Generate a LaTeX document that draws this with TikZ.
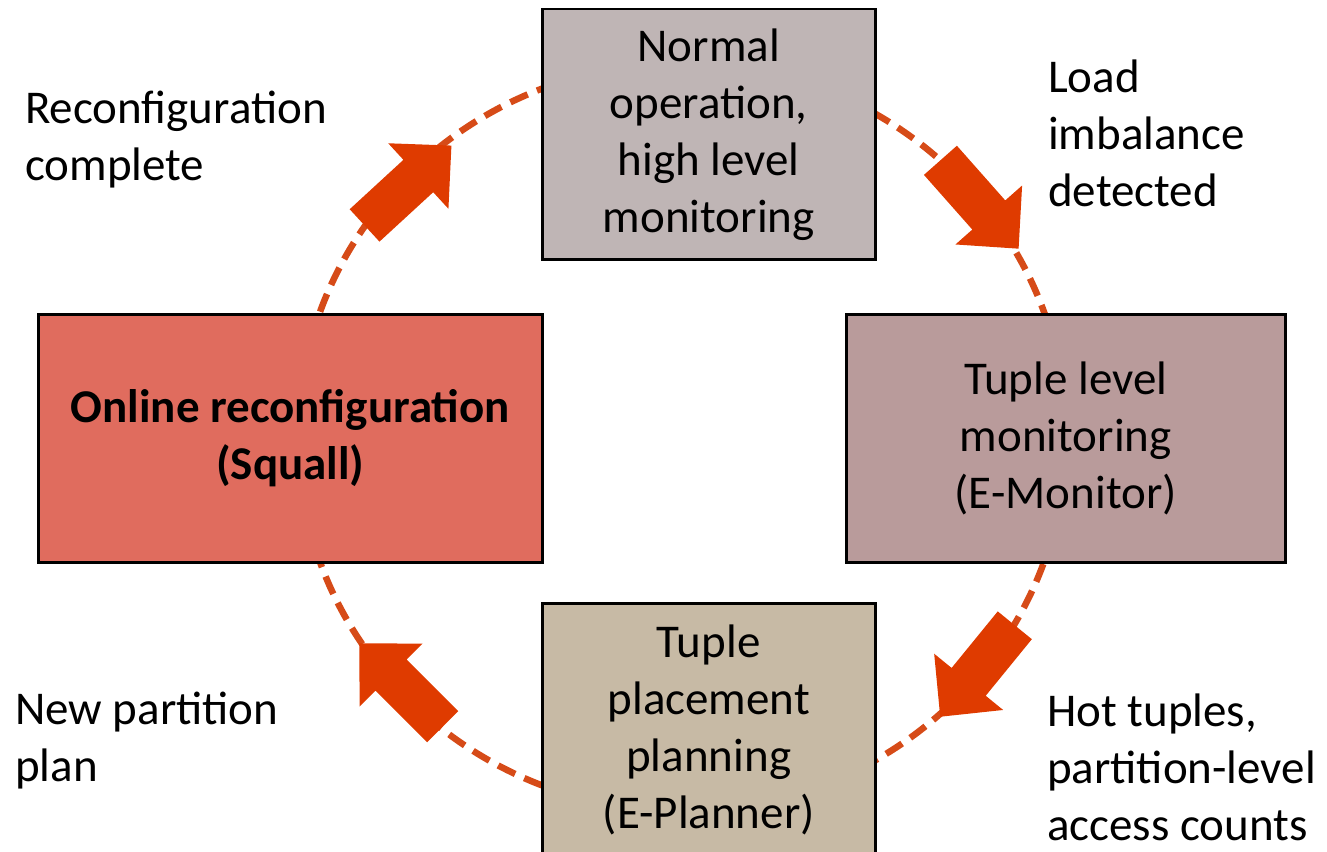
\documentclass[tikz,border=0pt]{standalone}
\usepackage{fontspec}
\setmainfont{Carlito}

\definecolor{topfill}{HTML}{BFB5B5}
\definecolor{rightfill}{HTML}{B99B9B}
\definecolor{botfill}{HTML}{C7BAA5}
\definecolor{leftfill}{HTML}{E06C5E}
\definecolor{arrowred}{HTML}{DF3B00}
\definecolor{cyclecol}{HTML}{D64B18}

\tikzset{
  stagebox/.style={draw=black, line width=2.5pt, inner sep=0pt, align=center,
    anchor=north west, font=\fontsize{47pt}{57pt}\selectfont},
  caption/.style={inner sep=0pt, align=left, anchor=west,
    font=\fontsize{47pt}{57pt}\selectfont},
  cycle/.style={draw=cyclecol, line width=6.5pt, dash pattern=on 19pt off 10pt},
  % thick block arrow pointing along the local x axis, centred on the origin
  pics/blockarrow/.style={code={
    \fill[arrowred] (-59,22) -- (14,22) -- (14,44.5) -- (59,0)
      -- (14,-44.5) -- (14,-22) -- (-59,-22) -- cycle;}}
}

\begin{document}
\begin{tikzpicture}[x=1pt, y=-1pt]
  \useasboundingbox (0,0) rectangle (1327,851);

  % dashed feedback cycle behind the stages
  \draw[cycle] (682,437) ellipse [x radius=384pt, y radius=374pt];

  % the four stages
  \node[stagebox, fill=topfill, minimum width=333pt, minimum height=250pt]
    (normal) at (541,8) {Normal\\operation,\\high level\\monitoring};
  \node[stagebox, fill=rightfill, minimum width=439pt, minimum height=248pt]
    (monitor) at (845,313) {Tuple level\\monitoring\\(E-Monitor)};
  \node[stagebox, fill=botfill, minimum width=333pt, minimum height=254pt]
    (planner) at (541,602) {Tuple\\placement\\planning\\(E-Planner)};
  \node[stagebox, fill=leftfill, minimum width=504pt, minimum height=248pt,
    font=\fontsize{47pt}{57pt}\selectfont\bfseries]
    (squall) at (37,313) {Online reconfiguration\\(Squall)};

  % block arrows along the cycle
  \pic[rotate=42.6]   (a1) at (408,185.5) {blockarrow};
  \pic[rotate=-48.5]  (a2) at (979.5,204.5) {blockarrow};
  \pic[rotate=-129.2] (a3) at (977.5,671) {blockarrow};
  \pic[rotate=135]    (a4) at (401,685) {blockarrow};

  % transition captions
  \node[caption] (c1) at (25,140) {Reconfiguration\\complete};
  \node[caption] (c2) at (1048,133) {Load\\imbalance\\detected};
  \node[caption] (c3) at (1047,767) {Hot tuples,\\partition-level\\access counts};
  \node[caption] (c4) at (15,741) {New partition\\plan};
\end{tikzpicture}
\end{document}
